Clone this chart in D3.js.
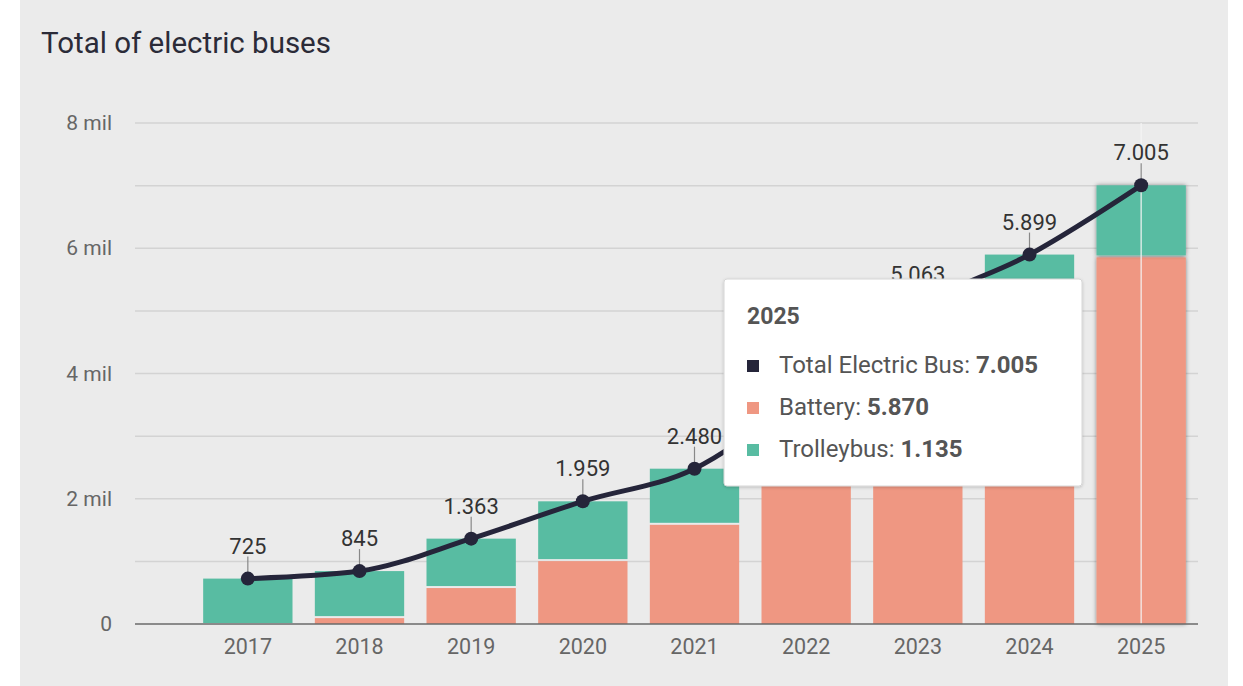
<!DOCTYPE html>
<html>
<head>
<meta charset="utf-8">
<script src="https://cdn.jsdelivr.net/npm/d3@7"></script>
<style>
  body { margin: 0; background: #ffffff; font-family: Roboto, "Noto Sans", sans-serif; }
</style>
</head>
<body>
<svg id="chart" width="1243" height="686"></svg>
<script>
// data
const years = ["2017", "2018", "2019", "2020", "2021", "2022", "2023", "2024", "2025"];
const battery = [0, 110, 590, 1020, 1600, 2700, 4000, 4800, 5870];
const trolleybus = [725, 735, 773, 939, 880, 1000, 1063, 1099, 1135];
const total = [725, 845, 1363, 1959, 2480, 3700, 5063, 5899, 7005];
const yTicks = [0, 2000, 4000, 6000, 8000];
const yGrid = [1000, 3000, 5000, 7000];
const hoverYear = "2025";

const colBattery = "#ef9782";
const colTrolley = "#58bca2";
const colLine = "#25253a";

// dot as thousands separator
const fmt = d3.formatLocale({decimal: ",", thousands: ".", grouping: [3], currency: ["", ""]}).format(",d");

var svg = d3.select("#chart");

// panel background
svg.append("rect")
  .attr("x", 20).attr("y", 0)
  .attr("width", 1208).attr("height", 686)
  .attr("fill", "#ebebeb");

// title
svg.append("text")
  .attr("x", 41).attr("y", 53)
  .style("font-size", "29.5px")
  .style("fill", "#2b2b38")
  .text("Total of electric buses");

var plotLeft = 135, plotRight = 1198, plotTop = 123, plotBottom = 624;

var x = d3.scaleBand()
  .domain(years)
  .range([192, 1197])
  .paddingInner(0.2)
  .paddingOuter(0.1);

var y = d3.scaleLinear()
  .domain([0, 8000])
  .range([plotBottom, plotTop]);

// gridlines
svg.append("g")
  .selectAll("line")
  .data(yTicks.concat(yGrid).filter(d => d > 0))
  .enter()
  .append("line")
  .attr("x1", plotLeft).attr("x2", plotRight)
  .attr("y1", d => y(d)).attr("y2", d => y(d))
  .attr("stroke", "#d3d3d3")
  .attr("stroke-width", 1.5);

// y axis labels
var yAxis = svg.append("g")
  .attr("transform", "translate(" + plotLeft + ",0)")
  .call(d3.axisLeft(y).tickValues(yTicks).tickSize(0).tickPadding(23)
    .tickFormat(d => d === 0 ? "0" : (d / 1000) + " mil"));
yAxis.select(".domain").remove();
yAxis.selectAll("text")
  .style("font-family", "Roboto, sans-serif")
  .style("font-size", "21px")
  .style("fill", "#666");

// shadow filters
var defs = svg.append("defs");
var f = defs.append("filter").attr("id", "shadow")
  .attr("x", "-20%").attr("y", "-10%").attr("width", "140%").attr("height", "120%");
f.append("feDropShadow")
  .attr("dx", 0).attr("dy", 0).attr("stdDeviation", 2)
  .attr("flood-color", "#000").attr("flood-opacity", 0.45);
var f2 = defs.append("filter").attr("id", "tipShadow")
  .attr("x", "-10%").attr("y", "-10%").attr("width", "120%").attr("height", "130%");
f2.append("feDropShadow")
  .attr("dx", 0).attr("dy", 1).attr("stdDeviation", 1.5)
  .attr("flood-color", "#000").attr("flood-opacity", 0.2);

// stacked bars
var rows = years.map((yr, i) => ({year: yr, battery: battery[i], trolleybus: trolleybus[i]}));
var stack = d3.stack().keys(["battery", "trolleybus"])(rows);
var colors = {battery: colBattery, trolleybus: colTrolley};

var barG = svg.append("g");
stack.forEach(layer => {
  barG.append("g")
    .selectAll("rect")
    .data(layer)
    .enter()
    .append("rect")
    .attr("x", d => x(d.data.year))
    .attr("width", x.bandwidth())
    .attr("y", d => y(d[1]) + (layer.key === "battery" ? 1 : 0))
    .attr("height", d => Math.max(0, y(d[0]) - y(d[1]) - 1))
    .attr("fill", colors[layer.key])
    .attr("filter", d => d.data.year === hoverYear ? "url(#shadow)" : null);
});

// hover crosshair
svg.append("line")
  .attr("x1", x(hoverYear) + x.bandwidth() / 2)
  .attr("x2", x(hoverYear) + x.bandwidth() / 2)
  .attr("y1", plotTop).attr("y2", plotBottom)
  .attr("stroke", "#f4f4f4")
  .attr("stroke-opacity", 0.8)
  .attr("stroke-width", 1.5);

// x axis
var xAxis = svg.append("g")
  .attr("transform", "translate(0," + plotBottom + ")")
  .call(d3.axisBottom(x).tickSize(0).tickPadding(15));
xAxis.select(".domain").remove();
xAxis.selectAll("text")
  .style("font-family", "Roboto, sans-serif")
  .style("font-size", "21.5px")
  .style("fill", "#666");
svg.append("line")
  .attr("x1", plotLeft).attr("x2", plotRight)
  .attr("y1", plotBottom).attr("y2", plotBottom)
  .attr("stroke", "#6a6a6a")
  .attr("stroke-width", 1.5);

// total line
var pts = years.map((yr, i) => ({year: yr, v: total[i]}));
var cx = d => x(d.year) + x.bandwidth() / 2;

svg.append("path")
  .datum(pts)
  .attr("fill", "none")
  .attr("stroke", colLine)
  .attr("stroke-width", 5)
  .attr("d", d3.line().x(cx).y(d => y(d.v)).curve(d3.curveMonotoneX));

// leader lines
svg.append("g")
  .selectAll("line")
  .data(pts)
  .enter()
  .append("line")
  .attr("x1", cx).attr("x2", cx)
  .attr("y1", d => y(d.v) - 22).attr("y2", d => y(d.v) - 6)
  .attr("stroke", "#888")
  .attr("stroke-width", 1.2);

svg.append("g")
  .selectAll("circle")
  .data(pts)
  .enter()
  .append("circle")
  .attr("cx", cx)
  .attr("cy", d => y(d.v))
  .attr("r", 7)
  .attr("fill", colLine);

svg.append("g")
  .selectAll("text")
  .data(pts)
  .enter()
  .append("text")
  .attr("x", cx)
  .attr("y", d => y(d.v) - 25)
  .attr("text-anchor", "middle")
  .style("font-size", "22px")
  .style("fill", "#333")
  .text(d => fmt(d.v));

// tooltip
var hi = years.indexOf(hoverYear);
var tip = svg.append("g").attr("transform", "translate(724,279)");
tip.append("rect")
  .attr("width", 358).attr("height", 207)
  .attr("rx", 3)
  .attr("fill", "#fff")
  .attr("stroke", "#d6d6d6")
  .attr("stroke-width", 1)
  .attr("filter", "url(#tipShadow)");
tip.append("text")
  .attr("x", 23).attr("y", 45)
  .style("font-size", "23px")
  .style("font-weight", "bold")
  .style("fill", "#555")
  .text(hoverYear);

var tipRows = [
  {label: "Total Electric Bus: ", v: total[hi], c: colLine},
  {label: "Battery: ", v: battery[hi], c: colBattery},
  {label: "Trolleybus: ", v: trolleybus[hi], c: colTrolley}
];
tipRows.forEach((r, i) => {
  var ty = 94 + i * 42;
  tip.append("rect")
    .attr("x", 23).attr("y", ty - 13)
    .attr("width", 12).attr("height", 12)
    .attr("fill", r.c);
  var t = tip.append("text")
    .attr("x", 55).attr("y", ty)
    .style("font-size", "24px")
    .style("fill", "#555");
  t.append("tspan").text(r.label);
  t.append("tspan").style("font-weight", "bold").text(fmt(r.v));
});
</script>
</body>
</html>
